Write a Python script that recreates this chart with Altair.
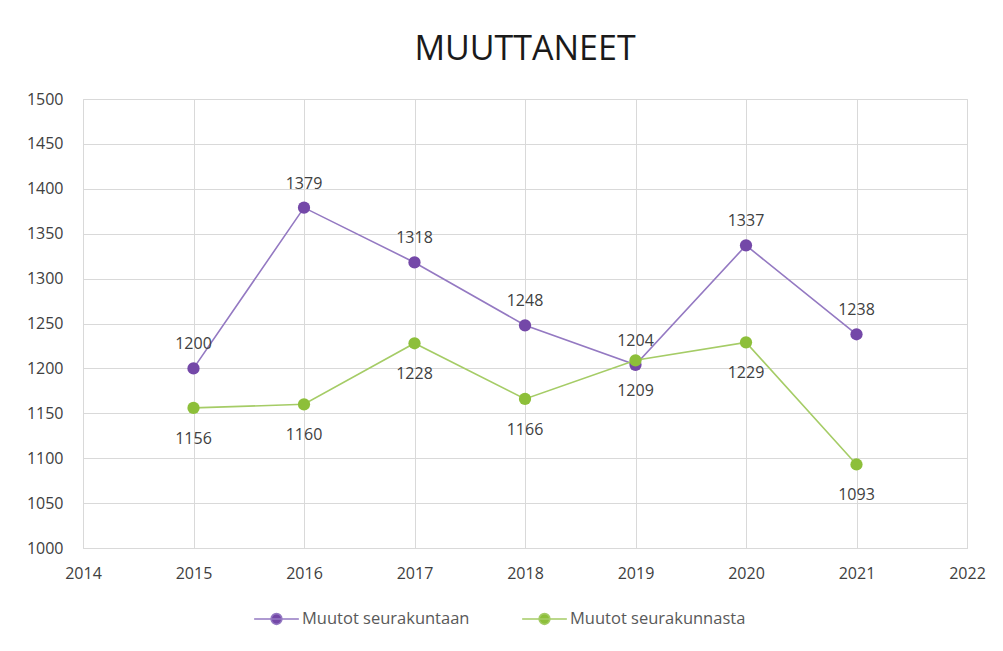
import altair as alt
import pandas as pd

years = [2015, 2016, 2017, 2018, 2019, 2020, 2021]
series_names = ["Muutot seurakuntaan", "Muutot seurakunnasta"]
into_parish = [1200, 1379, 1318, 1248, 1204, 1337, 1238]
from_parish = [1156, 1160, 1228, 1166, 1209, 1229, 1093]
x_ticks = [2014, 2015, 2016, 2017, 2018, 2019, 2020, 2021, 2022]
y_ticks = [1000, 1050, 1100, 1150, 1200, 1250, 1300, 1350, 1400, 1450, 1500]

colors = ["#7448A8", "#8DBF3A"]
line_colors = ["#9479C2", "#A5CC66"]

rows = []
for y, a, b in zip(years, into_parish, from_parish):
    rows.append({"year": y, "series": series_names[0], "value": a})
    rows.append({"year": y, "series": series_names[1], "value": b})
df = pd.DataFrame(rows)

FONT = "Open Sans"

x = alt.X("year:Q", scale=alt.Scale(domain=[2014, 2022], nice=False),
          axis=alt.Axis(values=x_ticks, format="d", title=None, labelPadding=17,
                        labelFontSize=16, labelColor="#404040", labelFont=FONT,
                        labelFlush=False, labelOverlap=False,
                        grid=True, gridColor="#D9D9D9", domainColor="#D9D9D9",
                        ticks=False))
y = alt.Y("value:Q", scale=alt.Scale(domain=[1000, 1500], nice=False, zero=False),
          axis=alt.Axis(values=y_ticks, format="d", title=None, labelPadding=20,
                        labelFontSize=16, labelColor="#404040", labelFont=FONT,
                        labelFlush=False, labelOverlap=False,
                        grid=True, gridColor="#D9D9D9", domain=False, ticks=False))

legend_path = "M-1,0L1,0M0.24,0A0.24,0.24,0,1,1,-0.24,0A0.24,0.24,0,1,1,0.24,0Z"


def make_legend():
    return alt.Legend(title=None, orient="none", direction="horizontal",
                      legendX=170, legendY=496,
                      symbolType=legend_path, symbolSize=2000,
                      symbolStrokeWidth=1.6, columnPadding=48,
                      labelFontSize=16.5, labelColor="#595959",
                      labelFont=FONT, labelOffset=2, labelLimit=400)


line = alt.Chart(df).mark_line(strokeWidth=1.6).encode(
    x=x, y=y,
    stroke=alt.Stroke("series:N", scale=alt.Scale(domain=series_names, range=line_colors),
                      legend=make_legend()),
    detail="series:N",
)

points = alt.Chart(df).mark_point(filled=True, size=150, opacity=1).encode(
    x=x, y=y,
    color=alt.Color("series:N", scale=alt.Scale(domain=series_names, range=colors),
                    legend=make_legend()),
)

labels_top = alt.Chart(df).transform_filter(
    alt.datum.series == series_names[0]
).mark_text(dy=-24, fontSize=16, font=FONT, color="#404040").encode(
    x=x, y=y, text=alt.Text("value:Q", format="d"))

labels_bottom = alt.Chart(df).transform_filter(
    alt.datum.series == series_names[1]
).mark_text(dy=31, fontSize=16, font=FONT, color="#404040").encode(
    x=x, y=y, text=alt.Text("value:Q", format="d"))

chart = alt.layer(line, points, labels_top, labels_bottom).properties(
    width=884, height=449,
    title=alt.TitleParams("MUUTTANEET", fontSize=34, font=FONT, fontWeight=500,
                          color="#1a1a1a", anchor="middle", frame="group", offset=24),
    autosize=alt.AutoSizeParams(type="none"),
    padding={"left": 75, "top": 91, "right": 28, "bottom": 95},
).configure_view(stroke="#D9D9D9").configure(background="white")

chart.save("out.html", embed_options={"renderer": "svg", "actions": False})
